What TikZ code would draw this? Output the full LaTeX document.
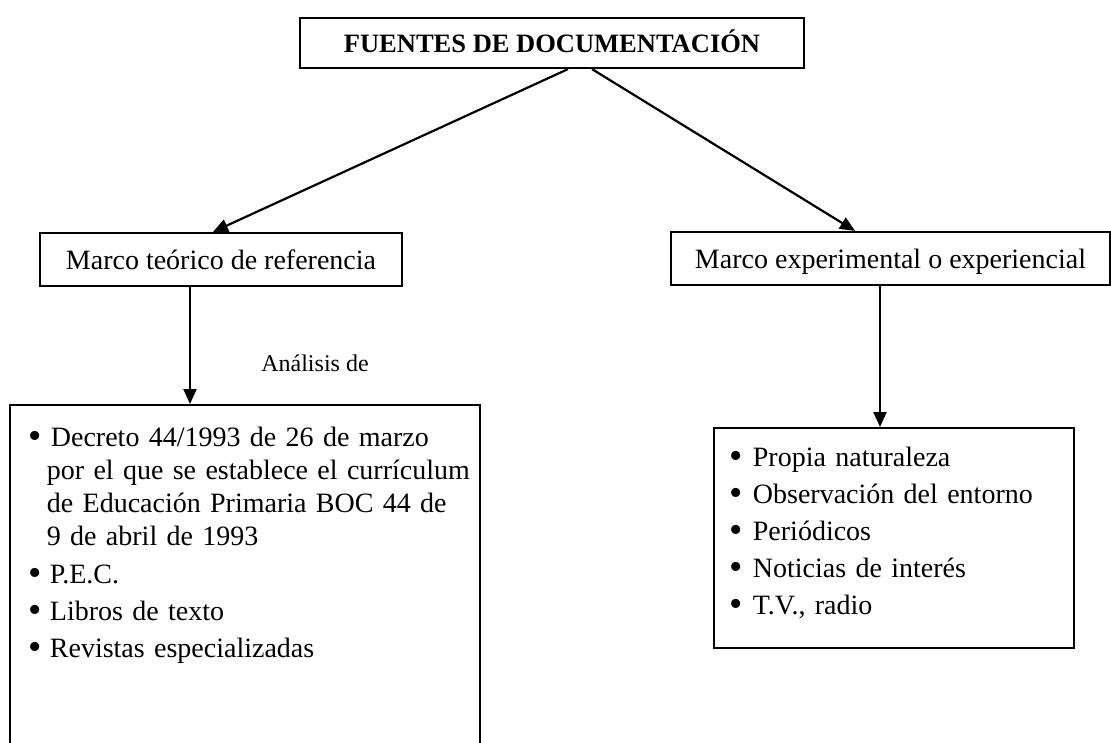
\documentclass[tikz,border=0pt]{standalone}
\usepackage{fontspec}
\setmainfont{Liberation Serif}
\usetikzlibrary{arrows.meta,calc}
\newcommand{\punto}{\raisebox{-2pt}{\fontsize{38}{0}\selectfont\textbullet}}

\begin{document}
\begin{tikzpicture}[x=1pt,y=-1pt,
    line width=2.2pt,>={Triangle[length=15pt,width=13pt]},
    caja/.style={draw,rectangle,inner sep=0pt,text height=21pt,text depth=2pt,font=\fontsize{28}{34}\selectfont},
    lista/.style={draw,rectangle,anchor=north west,inner ysep=0pt,align=left}]
    \useasboundingbox (0,0) rectangle (1111,742);
    \clip (0,0) rectangle (1111,742);
    \node (fuentes) [caja,minimum width=504pt,minimum height=50pt,text height=19pt,text depth=0pt,font=\fontsize{26.5}{30}\selectfont\bfseries] at (552,43) {FUENTES DE DOCUMENTACIÓN};
    \node (teorico) [caja,minimum width=362pt,minimum height=53pt] at (221,259.5) {Marco teórico de referencia};
    \node (experimental) [caja,minimum width=439pt,minimum height=53pt] at (890.5,258.5) {Marco experimental o experiencial};
    \node (analisis) [font=\fontsize{24}{28}\selectfont] at (315,363) {Análisis de};
    \node (listaT) [lista,inner xsep=18pt,text width=434pt,text height=41pt,text depth=330pt,font=\fontsize{28}{33}\selectfont] at (9,404) {%
        \begin{tabular}[t]{@{}l@{\hspace{5.5pt}}l@{}}
        \punto & \hspace{4pt}Decreto 44/1993 de 26 de marzo\\
         & por el que se establece el currículum\\
         & de Educación Primaria BOC 44 de\\
         & 9 de abril de 1993\\[5pt]
        \punto & \hspace{3pt}P.E.C.\\[4pt]
        \punto & \hspace{3pt}Libros de texto\\[4pt]
        \punto & \hspace{3pt}Revistas especializadas
        \end{tabular}};
    \node (listaE) [lista,inner xsep=15pt,text width=330pt,text height=38pt,text depth=182pt,font=\fontsize{28}{37}\selectfont] at (713,427) {%
        \begin{tabular}[t]{@{}l@{\hspace{10.5pt}}l@{}}
        \punto & Propia naturaleza\\
        \punto & Observación del entorno\\
        \punto & Periódicos\\
        \punto & Noticias de interés\\
        \punto & T.V., radio
        \end{tabular}};
    %
    \coordinate (t1) at ($(teorico.south)+(-31,0)$);
    \coordinate (e1) at ($(experimental.south)+(-10.5,0)$);
    \draw[->] ($(fuentes.south)+(16,0)$) -- ($(teorico.north)+(-8,0)$);
    \draw[->] ($(fuentes.south)+(40,0)$) -- ($(experimental.north)+(-35.5,0)$);
    \draw[->] (t1) -- (t1 |- listaT.north);
    \draw[->] (e1) -- (e1 |- listaE.north);
\end{tikzpicture}
\end{document}
